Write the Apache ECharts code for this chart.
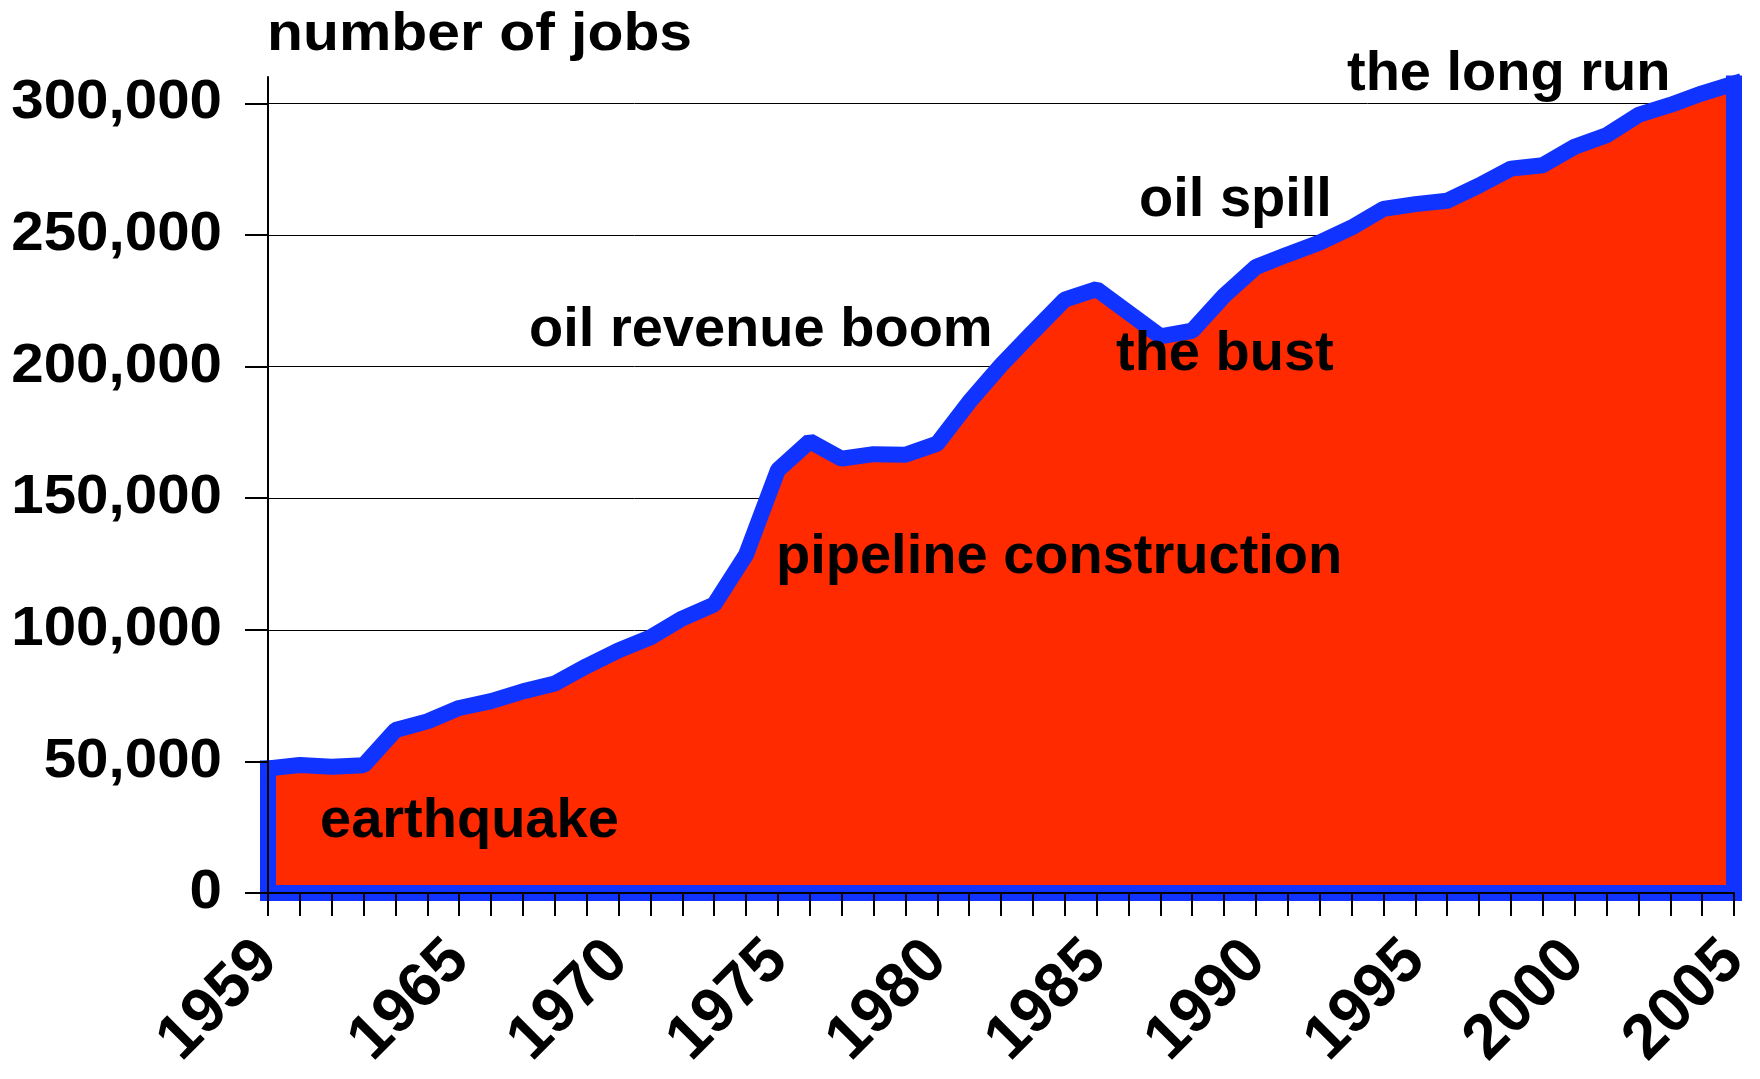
<!DOCTYPE html>
<html>
<head>
<meta charset="utf-8">
<script src="https://cdn.jsdelivr.net/npm/echarts@6/dist/echarts.min.js"></script>
<style>
html,body{margin:0;padding:0;background:#fff;}
#chart{width:1760px;height:1079px;}
</style>
</head>
<body>
<div id="chart"></div>
<script>
const years = [1959,1960,1961,1962,1963,1964,1965,1966,1967,1968,1969,1970,1971,1972,1973,1974,1975,1976,1977,1978,1979,1980,1981,1982,1983,1984,1985,1986,1987,1988,1989,1990,1991,1992,1993,1994,1995,1996,1997,1998,1999,2000,2001,2002,2003,2004,2005];
const jobs = [47300,48600,48000,48500,61900,65200,70300,72900,76600,79600,86200,92200,97100,104300,109600,128500,160700,171600,165000,166700,166500,170700,186500,200500,213100,225400,229400,220500,211500,213600,226900,237800,242600,247100,252800,259900,261700,263000,268800,275200,276500,283500,287900,295600,299400,303800,307500];
const xTickLabels = [1959,1965,1970,1975,1980,1985,1990,1995,2000,2005];
const yTickValues = [0,50000,100000,150000,200000,250000,300000];
const titleText = 'number of jobs';
const annotations = [
  {text:'earthquake', x:320, y:822},
  {text:'pipeline construction', x:776, y:558},
  {text:'oil revenue boom', x:529, y:331},
  {text:'the bust', x:1116, y:355},
  {text:'oil spill', x:1139, y:201},
  {text:'the long run', x:1347, y:75}
];

const FONT = '"Liberation Sans", Arial, Helvetica, sans-serif';
const RED = '#ff2a00';
const BLUE = '#1133ff';

const n = years.length;
const linePts = years.map((y,i)=>[y, jobs[i]]);
const framePts = [[years[0], jobs[0]], [years[0], 0], [years[n-1], 0], [years[n-1], jobs[n-1]]];

const chart = echarts.init(document.getElementById('chart'), null, {renderer:'canvas'});
chart.setOption({
  animation: false,
  backgroundColor: '#fff',
  grid: {left: 268, right: 26, top: 77, bottom: 186, containLabel: false},
  xAxis: {
    type: 'value', min: years[0], max: years[n-1], interval: 1, z: 10,
    axisLine: {show: true, lineStyle: {color: '#000', width: 2}},
    axisTick: {show: true, inside: false, length: 23, lineStyle: {color: '#000', width: 2}},
    splitLine: {show: false},
    axisLabel: {
      rotate: 45, margin: 58, color: '#000', fontSize: 63, fontWeight: 'bold', fontFamily: FONT,
      formatter: v => xTickLabels.indexOf(v) >= 0 ? String(v) : ''
    }
  },
  yAxis: {
    type: 'value', min: 0, max: 310000, interval: 50000, z: 10,
    axisLine: {show: true, lineStyle: {color: '#000', width: 2}},
    axisTick: {show: true, inside: false, length: 23, customValues: yTickValues, lineStyle: {color: '#000', width: 2}},
    splitLine: {show: false},
    axisLabel: {show: false}
  },
  series: [
    {
      type: 'line', data: linePts, showSymbol: false, symbol: 'none', z: 3, clip: false,
      lineStyle: {width: 0, opacity: 0},
      areaStyle: {color: RED, opacity: 1, origin: 'start'},
      markLine: {
        silent: true, symbol: 'none', z: 1, label: {show: false},
        lineStyle: {color: '#000', width: 1, type: 'solid'},
        data: yTickValues.map(v => ({yAxis: v}))
      }
    },
    {
      type: 'line', data: framePts, showSymbol: false, symbol: 'none', z: 4, clip: false,
      lineStyle: {color: BLUE, width: 16, join: 'miter', cap: 'square'}
    },
    {
      type: 'line', data: linePts, showSymbol: false, symbol: 'none', z: 5, clip: false,
      lineStyle: {color: BLUE, width: 16, join: 'bevel', cap: 'square'}
    }
  ]
});

// y tick labels placed through the axis scale (slightly widened glyphs as in the reference)
const graphics = [];
yTickValues.forEach(v => {
  const p = chart.convertToPixel({gridIndex: 0}, [years[0], v]);
  graphics.push({
    type: 'text', x: p[0] - 46, y: p[1], scaleX: 1.06, z: 100, silent: true,
    style: {text: v.toLocaleString('en-US'), fill: '#000', font: 'bold 55px ' + FONT, align: 'right', verticalAlign: 'middle'}
  });
});
graphics.push({
  type: 'text', x: 267, y: 35, scaleX: 1.09, z: 100, silent: true,
  style: {text: titleText, fill: '#000', font: 'bold 54px ' + FONT, align: 'left', verticalAlign: 'middle'}
});
annotations.forEach(a => graphics.push({
  type: 'text', x: a.x, y: a.y, z: 100, silent: true,
  style: {text: a.text, fill: '#000', font: 'bold 56px ' + FONT, align: 'left', verticalAlign: 'middle'}
}));
chart.setOption({graphic: graphics});
</script>
</body>
</html>
